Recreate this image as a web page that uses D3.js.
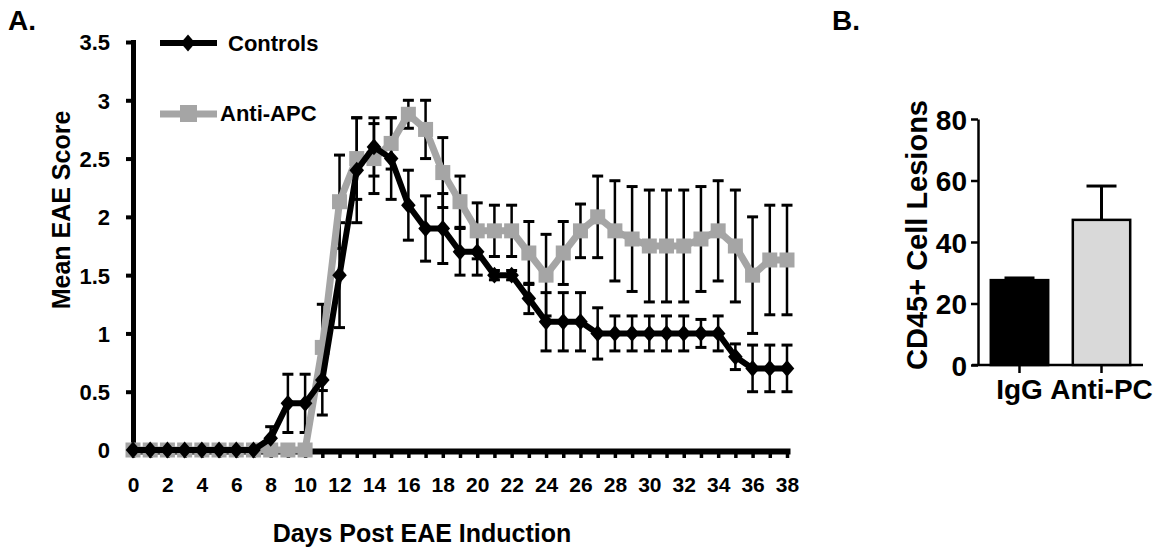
<!DOCTYPE html>
<html>
<head>
<meta charset="utf-8">
<script src="https://cdn.jsdelivr.net/npm/d3@7"></script>
<style>
  body { margin: 0; background: #fff; }
  svg text { font-family: "Liberation Sans", Arial, sans-serif; font-weight: bold; fill: #000; }
</style>
</head>
<body>
<svg id="fig" width="1175" height="550"></svg>
<script>
// panel A data
var days = [0,1,2,3,4,5,6,7,8,9,10,11,12,13,14,15,16,17,18,19,20,21,22,23,24,25,26,27,28,29,30,31,32,33,34,35,36,37,38];
var dayTicks = [0,2,4,6,8,10,12,14,16,18,20,22,24,26,28,30,32,34,36,38];
var scoreTicks = [0,0.5,1,1.5,2,2.5,3,3.5];
var controlMean = [0,0,0,0,0,0,0,0,0.1,0.4,0.4,0.6,1.5,2.4,2.6,2.5,2.1,1.9,1.9,1.7,1.7,1.5,1.5,1.3,1.1,1.1,1.1,1.0,1.0,1.0,1.0,1.0,1.0,1.0,1.0,0.8,0.7,0.7,0.7];
var controlErr  = [0,0,0,0,0,0,0,0,0.1,0.25,0.25,0.3,0.45,0.45,0.25,0.35,0.3,0.28,0.3,0.2,0.2,0.04,0.04,0.13,0.25,0.25,0.25,0.22,0.15,0.15,0.15,0.15,0.15,0.12,0.15,0.11,0.2,0.2,0.2];
var apcMean = [0,0,0,0,0,0,0,0,0,0,0,0.88,2.13,2.5,2.5,2.63,2.88,2.75,2.38,2.13,1.88,1.88,1.88,1.69,1.5,1.69,1.88,2.0,1.88,1.81,1.75,1.75,1.75,1.81,1.88,1.75,1.5,1.63,1.63];
var apcErr  = [0,0,0,0,0,0,0,0,0,0,0,0.37,0.4,0.35,0.3,0.22,0.12,0.25,0.3,0.22,0.24,0.22,0.22,0.27,0.35,0.27,0.23,0.35,0.43,0.45,0.48,0.48,0.48,0.45,0.43,0.48,0.5,0.47,0.47];

// panel B data
var groups = ["IgG", "Anti-PC"];
var lesionMean = [27.6, 47.2];
var lesionErr = [0.7, 11];
var lesionTicks = [0,20,40,60,80];

var grey = "#a5a5a5";
var svg = d3.select("#fig");

// ---------- panel A ----------
var xA = d3.scaleLinear().domain([0, 38]).range([133, 787]);
var yA = d3.scaleLinear().domain([0, 3.5]).range([450, 42]);

var gA = svg.append("g").attr("class", "panelA");

// y axis: thick black domain + short ticks
var yAxisA = gA.append("g")
  .attr("transform", "translate(133,0)")
  .call(d3.axisLeft(yA).tickValues(scoreTicks).tickSize(7).tickSizeOuter(0).tickPadding(16)
    .tickFormat(function(d) { return d; }));
yAxisA.selectAll("path, line").attr("stroke", "#000");
yAxisA.select("path").attr("stroke-width", 5).attr("stroke-linecap", "square");
yAxisA.selectAll("line").attr("stroke-width", 4);
yAxisA.selectAll("text").style("font-size", "22px").attr("dy", "0.36em");

// x axis
var xAxisA = gA.append("g")
  .attr("transform", "translate(0,451)")
  .call(d3.axisBottom(xA).tickValues(days).tickSize(7).tickSizeOuter(0).tickPadding(19)
    .tickFormat(function(d) { return dayTicks.indexOf(d) >= 0 ? d : ""; }));
xAxisA.selectAll("path, line").attr("stroke", "#000");
xAxisA.select("path").attr("stroke-width", 6).attr("stroke-linecap", "square");
xAxisA.selectAll("line").attr("stroke-width", 3.5);
xAxisA.selectAll("text").style("font-size", "21px");

gA.append("text").attr("x", 422).attr("y", 542).attr("text-anchor", "middle")
  .style("font-size", "25px").text("Days Post EAE Induction");
gA.append("text").attr("transform", "translate(70,210) rotate(-90)").attr("text-anchor", "middle")
  .style("font-size", "25px").text("Mean EAE Score");
gA.append("text").attr("x", 8).attr("y", 30).style("font-size", "28px").text("A.");

// error bars (black for both series)
function errorBars(mean, err) {
  var rows = days.map(function(d, i) { return { d: d, m: mean[i], e: err[i] }; })
    .filter(function(r) { return r.e > 0; });
  var g = gA.append("g").attr("stroke", "#000");
  g.selectAll(null).data(rows).enter().append("line")
    .attr("x1", function(r) { return xA(r.d); }).attr("x2", function(r) { return xA(r.d); })
    .attr("y1", function(r) { return yA(r.m - r.e); }).attr("y2", function(r) { return yA(r.m + r.e); })
    .attr("stroke-width", 2.5);
  [1, -1].forEach(function(s) {
    g.selectAll(null).data(rows).enter().append("line")
      .attr("x1", function(r) { return xA(r.d) - 5.5; }).attr("x2", function(r) { return xA(r.d) + 5.5; })
      .attr("y1", function(r) { return yA(r.m + s * r.e); }).attr("y2", function(r) { return yA(r.m + s * r.e); })
      .attr("stroke-width", 3);
  });
}
errorBars(apcMean, apcErr);
errorBars(controlMean, controlErr);

var lineA = d3.line().x(function(d) { return xA(d[0]); }).y(function(d) { return yA(d[1]); });
var apcPts = days.map(function(d, i) { return [d, apcMean[i]]; });
var ctlPts = days.map(function(d, i) { return [d, controlMean[i]]; });

gA.append("path").datum(apcPts).attr("d", lineA).attr("fill", "none")
  .attr("stroke", grey).attr("stroke-width", 7);
gA.append("g").selectAll("rect").data(apcPts).enter().append("rect")
  .attr("x", function(d) { return xA(d[0]) - 7.5; }).attr("y", function(d) { return yA(d[1]) - 7.5; })
  .attr("width", 15).attr("height", 15).attr("fill", grey);

gA.append("path").datum(ctlPts).attr("d", lineA).attr("fill", "none")
  .attr("stroke", "#000").attr("stroke-width", 6);
var diamond = d3.symbol().type(d3.symbolDiamond2 || d3.symbolDiamond).size(150);
gA.append("g").selectAll("path").data(ctlPts).enter().append("path")
  .attr("d", diamond)
  .attr("transform", function(d) { return "translate(" + xA(d[0]) + "," + yA(d[1]) + ") scale(0.95,1.1)"; })
  .attr("fill", "#000");

// legend
gA.append("line").attr("x1", 160).attr("x2", 217).attr("y1", 43).attr("y2", 43)
  .attr("stroke", "#000").attr("stroke-width", 6);
gA.append("path").attr("d", diamond).attr("transform", "translate(188,43) scale(0.95,1.1)").attr("fill", "#000");
gA.append("text").attr("x", 228).attr("y", 51).style("font-size", "22px").text("Controls");
gA.append("line").attr("x1", 160).attr("x2", 217).attr("y1", 114).attr("y2", 114)
  .attr("stroke", grey).attr("stroke-width", 7);
gA.append("rect").attr("x", 180).attr("y", 105).attr("width", 17).attr("height", 17).attr("fill", grey);
gA.append("text").attr("x", 220).attr("y", 121).style("font-size", "22px").text("Anti-APC");

// ---------- panel B ----------
var xb = d3.scaleBand().domain(groups).range([978, 1143]).paddingInner(0.3).paddingOuter(0.156);
var yb = d3.scaleLinear().domain([0, 80]).range([365, 119]);

var ybAxis = svg.append("g").attr("transform", "translate(978,0)")
  .call(d3.axisLeft(yb).tickValues(lesionTicks).tickSize(7).tickSizeOuter(0).tickPadding(4));
ybAxis.select(".domain").attr("stroke", "#000").attr("stroke-width", 2.5);
ybAxis.selectAll(".tick line").attr("stroke", "#000").attr("stroke-width", 2.5);
ybAxis.selectAll(".tick text").style("font-size", "28px").attr("dy", "0.36em");

svg.append("line").attr("x1", 972).attr("x2", 1143).attr("y1", 365).attr("y2", 365)
  .attr("stroke", "#000").attr("stroke-width", 2.5);
var xbAxis = svg.append("g").attr("transform", "translate(0,365)")
  .call(d3.axisBottom(xb).tickSize(8).tickSizeOuter(0).tickPadding(6));
xbAxis.select(".domain").remove();
xbAxis.selectAll(".tick line").attr("stroke", "#000").attr("stroke-width", 2.5);
xbAxis.selectAll(".tick text").style("font-size", "28px");

svg.append("g").selectAll("line").data(groups).enter().append("line")
  .attr("x1", function(g) { return xb(g) + xb.bandwidth() / 2; })
  .attr("x2", function(g) { return xb(g) + xb.bandwidth() / 2; })
  .attr("y1", function(g, i) { return yb(lesionMean[i]); })
  .attr("y2", function(g, i) { return yb(lesionMean[i] + lesionErr[i]); })
  .attr("stroke", "#000").attr("stroke-width", 3);
svg.append("g").selectAll("line").data(groups).enter().append("line")
  .attr("x1", function(g) { return xb(g) + xb.bandwidth() / 2 - 15; })
  .attr("x2", function(g) { return xb(g) + xb.bandwidth() / 2 + 15; })
  .attr("y1", function(g, i) { return yb(lesionMean[i] + lesionErr[i]); })
  .attr("y2", function(g, i) { return yb(lesionMean[i] + lesionErr[i]); })
  .attr("stroke", "#000").attr("stroke-width", 3);

svg.append("g").selectAll("rect").data(groups).enter().append("rect")
  .attr("x", function(g) { return xb(g); })
  .attr("y", function(g, i) { return yb(lesionMean[i]); })
  .attr("width", xb.bandwidth())
  .attr("height", function(g, i) { return yb(0) - yb(lesionMean[i]); })
  .attr("fill", function(g, i) { return i === 0 ? "#000" : "#d9d9d9"; })
  .attr("stroke", "#000").attr("stroke-width", 2.5);

svg.append("text").attr("transform", "translate(927,235) rotate(-90)").attr("text-anchor", "middle")
  .style("font-size", "29px").text("CD45+ Cell Lesions");
svg.append("text").attr("x", 832).attr("y", 30).style("font-size", "28px").text("B.");
</script>
</body>
</html>
